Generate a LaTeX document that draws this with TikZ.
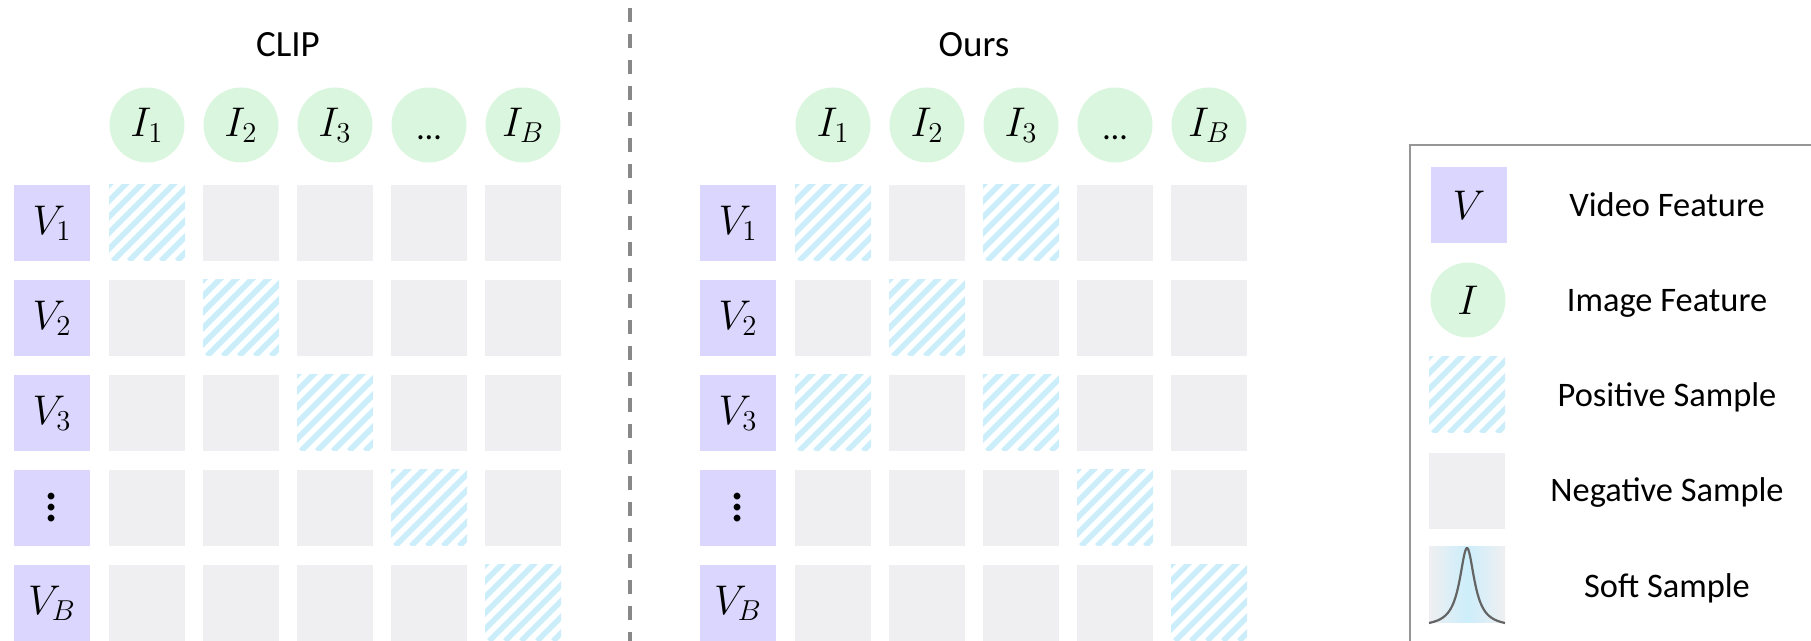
\documentclass[tikz,border=0pt]{standalone}
\usepackage{fontspec}
\usepackage{graphicx}
\setmainfont{Carlito}
\definecolor{vcol}{RGB}{219,214,253}
\definecolor{icol}{RGB}{218,246,223}
\definecolor{ncol}{RGB}{239,239,241}
\definecolor{hcol}{RGB}{204,238,251}
\definecolor{dashcol}{RGB}{136,136,136}
\definecolor{legcol}{RGB}{150,150,150}
\definecolor{curvecol}{RGB}{100,100,100}
\begin{document}
\begin{tikzpicture}[x=0.5pt,y=-0.5pt,
  cell/.style={minimum width=38pt,minimum height=38pt,inner sep=0pt,outer sep=0pt},
  vbox/.style={cell,fill=vcol,font=\fontsize{20}{24}\selectfont},
  negbox/.style={cell,fill=ncol},
  posbox/.style={cell,path picture={
      \foreach \k in {-38,-30,...,38}{
        \draw[hcol,line width=2.83pt] ([xshift=\k pt]path picture bounding box.south west) -- ++(60pt,60pt);}}},
  softbox/.style={cell,left color=ncol,right color=ncol,middle color=hcol},
  ibox/.style={circle,fill=icol,minimum size=37.5pt,inner sep=0pt,outer sep=0pt,font=\fontsize{20}{24}\selectfont},
  title/.style={anchor=base,font=\fontsize{18.5}{22}\selectfont},
  legtext/.style={anchor=base,font=\fontsize{17.2}{20}\selectfont},
  divider/.style={dashcol,line width=2pt,dash pattern=on 7pt off 6pt},
  legframe/.style={legcol,line width=1.3pt}
]
\useasboundingbox (0,0) rectangle (1811,641);

% titles
\node[title] (tclip) at (288,57) {CLIP};
\node[title] (tours) at (974,57) {Ours};

\foreach \g/\ox in {L/0,R/686}{
  % image features
  \foreach \c/\lab in {1/I_1,2/I_2,3/I_3,5/I_B}{
    \node[ibox] (\g i\c) at ({147+94*(\c-1)+\ox},125) {$\lab$};
  }
  \node[ibox] (\g i4) at ({147+94*3+\ox},125) {\smash{\raisebox{-7.5pt}{\fontsize{17}{20}\selectfont …}}};
  % video features
  \foreach \r/\lab in {1/V_1,2/V_2,3/V_3,5/V_B}{
    \node[vbox] (\g v\r) at ({52+\ox},{223+95*(\r-1)}) {$\lab$};
  }
  \node[vbox] (\g v4) at ({52+\ox},508) {\smash{\raisebox{-7pt}{\scalebox{1.4}{$\vdots$}}}};
}

% CLIP matrix
\foreach \r in {1,...,5}{
  \foreach \c in {1,...,5}{
    \pgfmathtruncatemacro\p{\r==\c}
    \ifnum\p=1
      \node[posbox] (Lc\r\c) at ({147+94*(\c-1)},{223+95*(\r-1)}) {};
    \else
      \node[negbox] (Lc\r\c) at ({147+94*(\c-1)},{223+95*(\r-1)}) {};
    \fi
  }
}
% Ours matrix
\foreach \r in {1,...,5}{
  \foreach \c in {1,...,5}{
    \pgfmathtruncatemacro\p{or(\r==\c,\r+\c==4)}
    \ifnum\p=1
      \node[posbox] (Rc\r\c) at ({833+94*(\c-1)},{223+95*(\r-1)}) {};
    \else
      \node[negbox] (Rc\r\c) at ({833+94*(\c-1)},{223+95*(\r-1)}) {};
    \fi
  }
}

% divider
\coordinate (divtop) at (630,8);
\coordinate (divbot) at (630,641);
\draw[divider] (divtop) -- (divbot);

% legend
\coordinate (legtr) at (1811,145);
\coordinate (legtl) at (1410,145);
\coordinate (legbl) at (1410,645);
\draw[legframe] (legtr) -- (legtl) -- (legbl);

\node[vbox] (lv) at (1469,205) {$V$};
\node[ibox] (li) at (1468,300) {$I$};
\node[posbox] (lp) at (1467,395) {};
\node[negbox] (ln) at (1467,491) {};
\node[softbox] (ls) at (1467,585) {};
\draw[curvecol,line width=1.1pt,shift={(ls.south)}]
  plot[domain=-38:38,samples=90,smooth] ({\x},{-75*(1/(1+(\x/9)^2)-0.053)/0.947});

\node[legtext] (tv) at (1667,217) {Video Feature};
\node[legtext] (ti) at (1667,312) {Image Feature};
\node[legtext] (tp) at (1667,407) {Positive Sample};
\node[legtext] (tn) at (1667,502) {Negative Sample};
\node[legtext] (ts) at (1667,597) {Soft Sample};
\end{tikzpicture}
\end{document}
